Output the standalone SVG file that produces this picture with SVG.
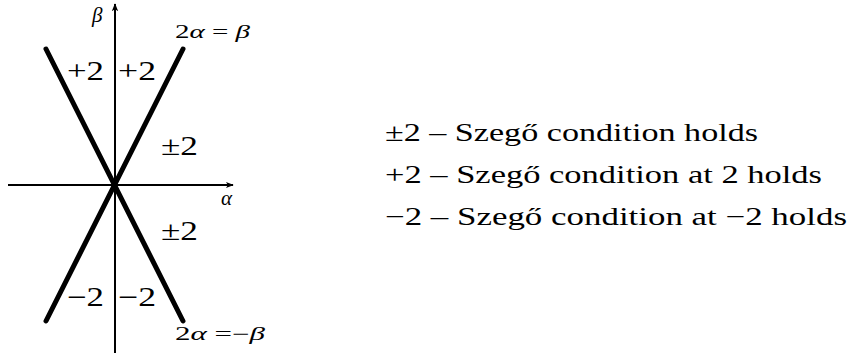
<svg xmlns="http://www.w3.org/2000/svg" width="850" height="353" viewBox="0 0 850 353">
<style>
.lab{font-size:27px}
.sm{font-size:18px}
.it{font-style:italic}
.leg{font-size:25px}
.axis{stroke:#000;stroke-width:2;fill:none}
.bound{stroke:#000;stroke-width:5;stroke-linecap:round;fill:none}
</style>
<defs>
<marker id="arr" viewBox="0 0 10 10" refX="9" refY="5" markerWidth="8" markerHeight="8" markerUnits="userSpaceOnUse" orient="auto">
<path d="M0,1 L10,5 L0,9 L2.5,5 Z" fill="#000"/>
</marker>
</defs>
<g id="connectors">
<line class="axis" x1="8" y1="185" x2="233" y2="185" marker-end="url(#arr)"/>
<line class="axis" x1="115" y1="353" x2="115" y2="4" marker-end="url(#arr)"/>
<line class="bound" x1="46" y1="49" x2="183" y2="321"/>
<line class="bound" x1="183" y1="49" x2="46" y2="321"/>
</g>
<g id="labels" font-family="Liberation Serif, Times New Roman, serif" fill="#000">
<text class="it" x="92" y="22" font-size="21">β</text>
<text class="it" x="221" y="205" font-size="21">α</text>
<text class="sm" x="175" y="38" textLength="75" lengthAdjust="spacingAndGlyphs">2<tspan class="it">α</tspan> = <tspan class="it">β</tspan></text>
<text class="sm" x="175" y="340" textLength="90" lengthAdjust="spacingAndGlyphs">2<tspan class="it">α</tspan> =−<tspan class="it">β</tspan></text>
<text class="lab" x="67" y="80" textLength="37" lengthAdjust="spacingAndGlyphs">+2</text>
<text class="lab" x="118" y="80" textLength="38" lengthAdjust="spacingAndGlyphs">+2</text>
<text class="lab" x="161" y="155" textLength="37" lengthAdjust="spacingAndGlyphs">±2</text>
<text class="lab" x="161" y="240" textLength="37" lengthAdjust="spacingAndGlyphs">±2</text>
<text class="lab" x="67" y="306" textLength="37" lengthAdjust="spacingAndGlyphs">−2</text>
<text class="lab" x="118" y="306" textLength="38" lengthAdjust="spacingAndGlyphs">−2</text>
</g>
<g id="legend" font-family="Liberation Serif, Times New Roman, serif" fill="#000">
<text class="leg" x="385" y="141" textLength="373" lengthAdjust="spacingAndGlyphs">±2 – Szegő condition holds</text>
<text class="leg" x="385" y="183" textLength="437" lengthAdjust="spacingAndGlyphs">+2 – Szegő condition at 2 holds</text>
<text class="leg" x="385" y="225" textLength="462" lengthAdjust="spacingAndGlyphs">−2 – Szegő condition at −2 holds</text>
</g>
</svg>
